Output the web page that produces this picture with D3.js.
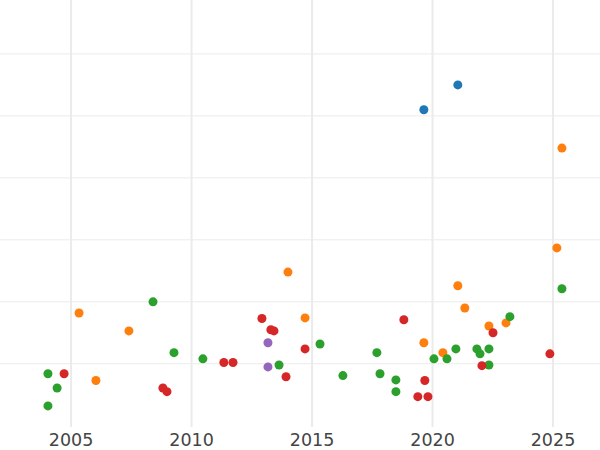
<!DOCTYPE html>
<html><head><meta charset="utf-8">
<script src="https://cdn.jsdelivr.net/npm/d3@7"></script>
<style>body{margin:0;background:#fff}</style>
</head><body>
<script>
const blueX = [2019.64, 2021.05];
const blueY = [5.10, 5.50];
const orangeX = [2005.33, 2006.03, 2007.40, 2014.0, 2014.71, 2019.64, 2020.43, 2021.05, 2021.34, 2022.34, 2023.05, 2025.16, 2025.37];
const orangeY = [1.82, 0.73, 1.53, 2.48, 1.74, 1.34, 1.18, 2.26, 1.90, 1.61, 1.66, 2.87, 4.48];
const greenX = [2004.04, 2004.42, 2004.04, 2008.40, 2009.27, 2010.47, 2013.63, 2015.33, 2016.28, 2017.69, 2017.82, 2018.48, 2018.48, 2020.06, 2020.60, 2020.97, 2021.84, 2021.97, 2022.34, 2022.34, 2023.21, 2025.37];
const greenY = [0.84, 0.61, 0.32, 2.0, 1.18, 1.08, 0.98, 1.32, 0.81, 1.18, 0.84, 0.74, 0.55, 1.08, 1.08, 1.24, 1.24, 1.16, 1.24, 0.98, 1.76, 2.21];
const redX = [2004.71, 2008.81, 2008.98, 2011.34, 2011.72, 2012.92, 2013.29, 2013.42, 2013.92, 2014.71, 2018.81, 2019.39, 2019.68, 2019.81, 2022.05, 2022.51, 2024.87];
const redY = [0.84, 0.61, 0.55, 1.02, 1.02, 1.73, 1.55, 1.53, 0.79, 1.24, 1.71, 0.47, 0.73, 0.47, 0.97, 1.50, 1.16];
const purpleX = [2013.17, 2013.17];
const purpleY = [1.34, 0.95];
const xTicks = [2005, 2010, 2015, 2020, 2025];
const yGrid = [1, 2, 3, 4, 5, 6];

const series = [
  {c: "#1f77b4", x: blueX, y: blueY},
  {c: "#ff7f0e", x: orangeX, y: orangeY},
  {c: "#2ca02c", x: greenX, y: greenY},
  {c: "#d62728", x: redX, y: redY},
  {c: "#9467bd", x: purpleX, y: purpleY}
];

const w = 600, h = 450;
const svg = d3.select("body").append("svg").attr("width", w).attr("height", h);
const x = d3.scaleLinear().domain([2002.05, 2026.95]).range([0, 600]);
const y = d3.scaleLinear().domain([-0.02, 6.87]).range([427, 0]);

svg.selectAll(".gy").data(yGrid).enter().append("line")
  .attr("x1", 0).attr("x2", w).attr("y1", d => y(d)).attr("y2", d => y(d))
  .attr("stroke", "#ebebeb").attr("stroke-width", 1);
svg.selectAll(".gx").data(xTicks).enter().append("line")
  .attr("y1", 0).attr("y2", 427).attr("x1", d => x(d)).attr("x2", d => x(d))
  .attr("stroke", "#ebebeb").attr("stroke-width", 2);

svg.selectAll(".tl").data(xTicks).enter().append("text")
  .text(d => d).attr("x", d => x(d)).attr("y", 446)
  .attr("text-anchor", "middle").attr("font-family", "DejaVu Sans")
  .attr("font-size", 17.5).attr("fill", "#444");

series.forEach(s => {
  svg.append("g").selectAll("circle").data(s.x).enter().append("circle")
    .attr("cx", d => x(d)).attr("cy", (d, i) => y(s.y[i]))
    .attr("r", 4.5).attr("fill", s.c);
});
</script>
</body></html>
